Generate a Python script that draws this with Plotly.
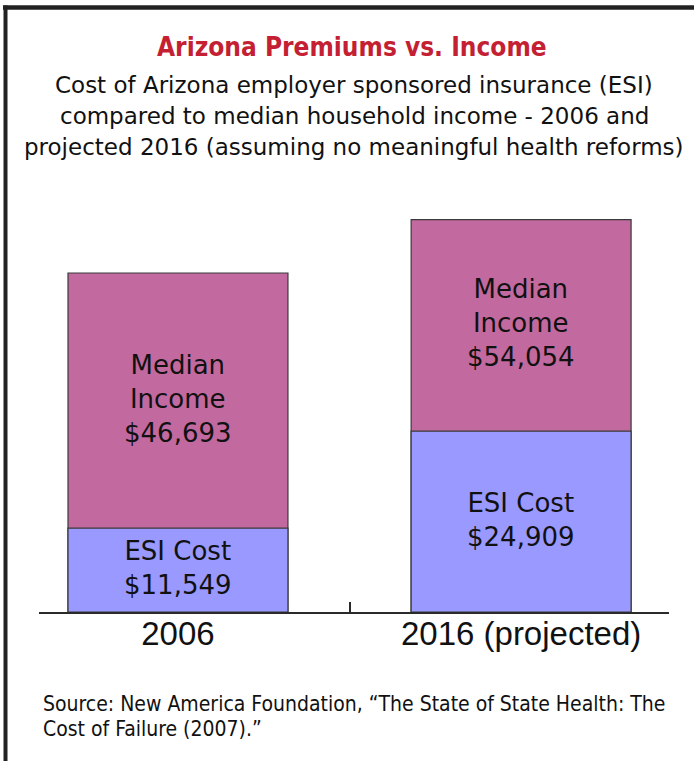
import plotly.graph_objects as go

# ---- data ----
categories = ["2006", "2016 (projected)"]
median_income = [46693, 54054]
esi_cost = [11549, 24909]

title_text = "Arizona Premiums vs. Income"
subtitle_lines = [
    "Cost of Arizona employer sponsored insurance (ESI)",
    "compared to median household income - 2006 and",
    "projected 2016 (assuming no meaningful health reforms)",
]
source_lines = [
    "Source: New America Foundation, \u201cThe State of State Health: The",
    "Cost of Failure (2007).\u201d",
]

# ---- layout geometry (pixels) ----
W, H = 694, 761
ML, MR, MT, MB = 39, 25, 200, 149
PW = W - ML - MR
PH = H - MT - MB


def px(x):
    return (x - ML) / PW


def py(y):
    return (H - MB - y) / PH


MAGENTA = "#C2699F"
BLUE = "#9999FF"
OUTLINE = "#3a3a3a"
SANS = "Liberation Sans, Arial, sans-serif"
DJV = "DejaVu Sans, sans-serif"
NARROW = "Liberation Sans Narrow, Arial Narrow, DejaVu Sans Condensed, sans-serif"

fig = go.Figure()
fig.add_trace(go.Bar(
    x=categories, y=median_income, name="Median Income",
    marker=dict(color=MAGENTA, line=dict(color=OUTLINE, width=1.2)),
    width=0.641, hoverinfo="skip",
))
fig.add_trace(go.Bar(
    x=categories, y=esi_cost, name="ESI Cost",
    marker=dict(color=BLUE, line=dict(color=OUTLINE, width=1.2)),
    width=0.641, hoverinfo="skip",
))

annotations = []
for i, (inc, esi) in enumerate(zip(median_income, esi_cost)):
    annotations.append(dict(
        x=i, y=esi + (inc - esi) / 2, xref="x", yref="y", yshift=2,
        text=f"Median<br>Income<br>${inc:,}", showarrow=False,
        font=dict(family=DJV, size=26, color="#111"),
        align="center", yanchor="middle",
    ))
    annotations.append(dict(
        x=i, y=esi / 2, xref="x", yref="y", yshift=2,
        text=f"ESI Cost<br>${esi:,}", showarrow=False,
        font=dict(family=DJV, size=26, color="#111"),
        align="center", yanchor="middle",
    ))

annotations.append(dict(
    x=px(352), y=py(47), xref="paper", yref="paper",
    text=f"<b>{title_text}</b>", showarrow=False,
    font=dict(family=NARROW, size=26, color="#C41F33"),
    xanchor="center", yanchor="middle",
))
for i, line in enumerate(subtitle_lines):
    annotations.append(dict(
        x=px(354), y=py(85.5 + 30.5 * i), xref="paper", yref="paper",
        text=line, showarrow=False,
        font=dict(family=DJV, size=23, color="#111"),
        xanchor="center", yanchor="middle",
    ))
for i, line in enumerate(source_lines):
    annotations.append(dict(
        x=px(41), y=py(703.5 + 25 * i), xref="paper", yref="paper",
        text=line, showarrow=False,
        font=dict(family=NARROW, size=21, color="#111"),
        xanchor="left", yanchor="middle",
    ))

shapes = [
    # top frame line
    dict(type="line", xref="paper", yref="paper",
         x0=px(3), x1=px(W + 2), y0=py(7.5), y1=py(7.5),
         line=dict(color="#222", width=4.5)),
    # left frame line
    dict(type="line", xref="paper", yref="paper",
         x0=px(5.5), x1=px(5.5), y0=py(5.5), y1=py(H + 2),
         line=dict(color="#222", width=4)),
]

fig.update_layout(
    width=W, height=H,
    margin=dict(l=ML, r=MR, t=MT, b=MB),
    paper_bgcolor="white", plot_bgcolor="white",
    barmode="overlay", showlegend=False,
    annotations=annotations, shapes=shapes,
    xaxis=dict(
        type="category", range=[-0.405, 1.431],
        showline=True, linecolor="#2a2a2a", linewidth=2,
        ticks="inside", tickson="boundaries", ticklen=10, tickwidth=2,
        tickcolor="#2a2a2a", ticklabelstandoff=-9,
        tickfont=dict(family=SANS, size=33, color="#111"),
        showgrid=False, zeroline=False, fixedrange=True,
    ),
    yaxis=dict(
        range=[0, 56749], visible=False, showgrid=False, zeroline=False,
        fixedrange=True,
    ),
)

fig.write_html(
    "out.html",
    config={"displayModeBar": False},
    post_script="document.body.style.margin='0';document.body.style.padding='0';",
)
